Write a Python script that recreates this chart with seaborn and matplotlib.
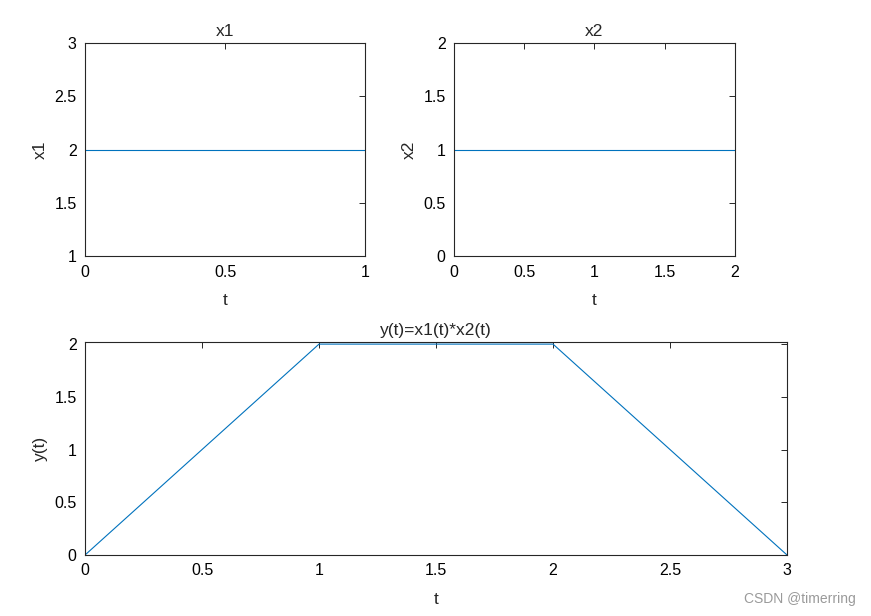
import numpy as np
import pandas as pd
import seaborn as sns
import matplotlib.pyplot as plt
from matplotlib.ticker import FuncFormatter

# signal data
t1 = [0, 1]
x1 = [2, 2]
t2 = [0, 2]
x2 = [1, 1]
ty = [0, 1, 2, 3]
y = [0, 2, 2, 0]

sns.set_style("white")
plt.rcParams['font.family'] = ['Liberation Sans', 'DejaVu Sans']

line_color = '#0072BD'
edge = '#262626'
fmt = FuncFormatter(lambda v, p: f"{v:g}")

fig = plt.figure(figsize=(8.71, 6.16), dpi=100)
ax1 = fig.add_axes([0.0976, 0.584, 0.3215, 0.3458])
ax2 = fig.add_axes([0.5212, 0.584, 0.3226, 0.3458])
ax3 = fig.add_axes([0.0976, 0.099, 0.806, 0.3458])

def style(ax, title, ylabel, xlim, ylim, xticks, yticks):
    ax.set_xlim(xlim)
    ax.set_ylim(ylim)
    ax.set_xticks(xticks)
    ax.set_yticks(yticks)
    ax.xaxis.set_major_formatter(fmt)
    ax.yaxis.set_major_formatter(fmt)
    ax.set_title(title, fontsize=12.5, pad=5)
    ax.set_xlabel('t', fontsize=12.5, labelpad=10)
    ax.set_ylabel(ylabel, fontsize=12.5, labelpad=5)
    ax.tick_params(direction='in', top=True, right=True, length=4, width=0.7,
                   colors=edge, labelcolor='black', labelsize=11.5, pad=6)
    for s in ax.spines.values():
        s.set_color(edge)
        s.set_linewidth(0.8)

sns.lineplot(x=t1, y=x1, ax=ax1, color=line_color, linewidth=0.8)
style(ax1, 'x1', 'x1', (0, 1), (1, 3), [0, 0.5, 1], [1, 1.5, 2, 2.5, 3])

sns.lineplot(x=t2, y=x2, ax=ax2, color=line_color, linewidth=0.8)
style(ax2, 'x2', 'x2', (0, 2), (0, 2), [0, 0.5, 1, 1.5, 2], [0, 0.5, 1, 1.5, 2])

sns.lineplot(x=ty, y=y, ax=ax3, color=line_color, linewidth=0.8)
style(ax3, 'y(t)=x1(t)*x2(t)', 'y(t)', (0, 3), (0, 2.02),
      [0, 0.5, 1, 1.5, 2, 2.5, 3], [0, 0.5, 1, 1.5, 2])

fig.text(0.983, 0.017, 'CSDN @timerring', ha='right', va='bottom',
         fontsize=10, color='#9a9a9a')

fig.savefig('out.png', dpi=100, facecolor='white')
